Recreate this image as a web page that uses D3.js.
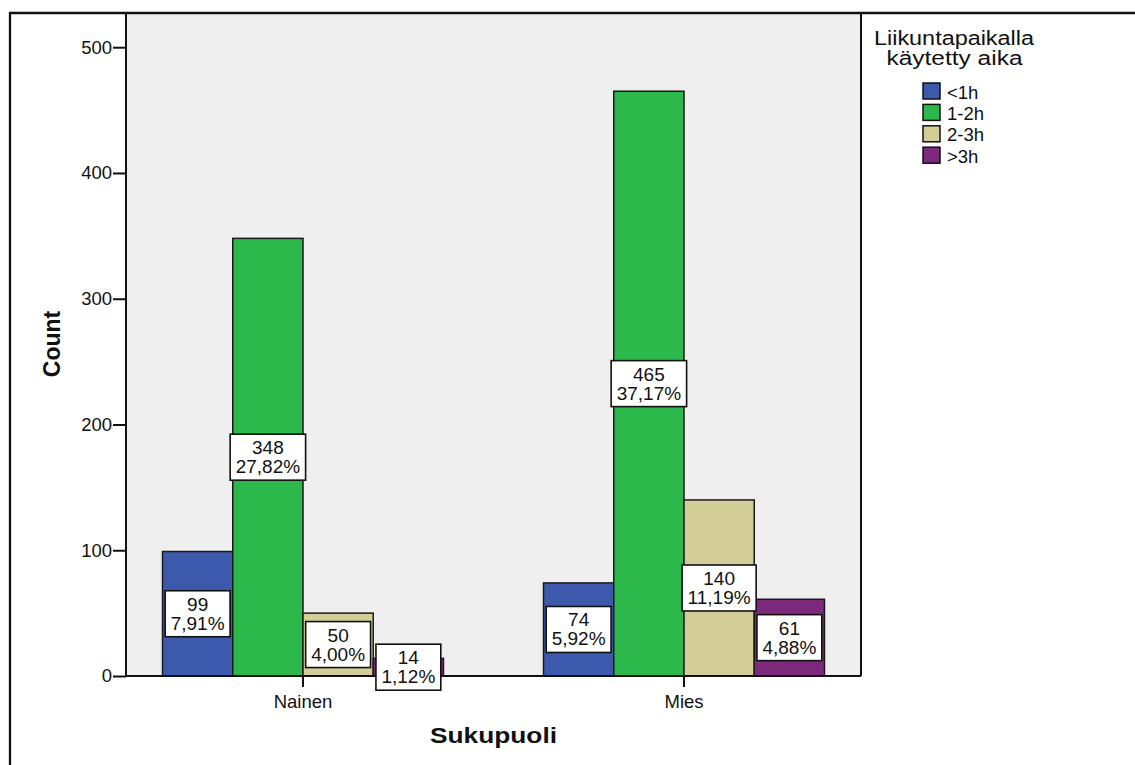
<!DOCTYPE html>
<html>
<head>
<meta charset="utf-8">
<script src="https://cdn.jsdelivr.net/npm/d3@7"></script>
<style>
  html, body { margin: 0; padding: 0; background: #fff; }
  svg { display: block; font-family: Arial, "Liberation Sans", Helvetica, sans-serif; }
</style>
</head>
<body>
<svg id="chart" width="1135" height="765"></svg>
<script>
// Sukupuoli x liikuntapaikalla käytetty aika (counts)
const categories = ["Nainen", "Mies"];
const seriesNames = ["<1h", "1-2h", "2-3h", ">3h"];
const naisetValues = [99, 348, 50, 14];
const miehetValues = [74, 465, 140, 61];
const yTicks = [0, 100, 200, 300, 400, 500];
const seriesColors = ["#3d59ab", "#2db84b", "#d3ce98", "#7d2a7d"];

const valuesByCategory = { "Nainen": naisetValues, "Mies": miehetValues };
const total = d3.sum(naisetValues) + d3.sum(miehetValues);
const pctFormat = v => d3.format(".2f")(v * 100).replace(".", ",") + "%";

const svg = d3.select("#chart");

const plot = { left: 126, right: 861, top: 12, bottom: 676 };

const x = d3.scaleBand()
  .domain(categories)
  .range([plot.left, plot.right])
  .paddingInner(0.2625)
  .paddingOuter(0.0958);

const xInner = d3.scaleBand()
  .domain(seriesNames)
  .range([0, x.bandwidth()]);

const y = d3.scaleLinear()
  .domain([0, 528])
  .range([plot.bottom, plot.top]);

const color = d3.scaleOrdinal().domain(seriesNames).range(seriesColors);

// plot background
svg.append("rect")
  .attr("x", plot.left).attr("y", plot.top)
  .attr("width", plot.right - plot.left).attr("height", plot.bottom - plot.top)
  .attr("fill", "#efefef");

// bars
const rows = [];
categories.forEach(c => {
  valuesByCategory[c].forEach((v, i) => rows.push({ cat: c, series: seriesNames[i], value: v }));
});

svg.append("g").selectAll("rect")
  .data(rows)
  .join("rect")
  .attr("x", d => x(d.cat) + xInner(d.series))
  .attr("y", d => y(d.value))
  .attr("width", xInner.bandwidth())
  .attr("height", d => y(0) - y(d.value))
  .attr("fill", d => color(d.series))
  .attr("stroke", "#1a1a1a")
  .attr("stroke-width", 1.5);

// plot frame lines
svg.append("line").attr("x1", plot.right).attr("x2", plot.right)
  .attr("y1", plot.top).attr("y2", plot.bottom)
  .attr("stroke", "#111").attr("stroke-width", 2);

// y axis
const yAxis = d3.axisLeft(y).tickValues(yTicks).tickSize(13).tickPadding(1).tickSizeOuter(0);
const gy = svg.append("g").attr("transform", `translate(${plot.left},0)`).call(yAxis);
gy.select(".domain").attr("stroke", "#111").attr("stroke-width", 2)
  .attr("d", `M0,${plot.top}V${plot.bottom}`);
gy.selectAll(".tick line").attr("stroke", "#111").attr("stroke-width", 2);
gy.selectAll(".tick text").attr("font-size", 18.5).attr("fill", "#111")
  .attr("font-family", "Arial, 'Liberation Sans', sans-serif");

// x axis
const xAxis = d3.axisBottom(x).tickSize(11).tickPadding(8).tickSizeOuter(0);
const gx = svg.append("g").attr("transform", `translate(0,${plot.bottom})`).call(xAxis);
gx.select(".domain").attr("stroke", "#111").attr("stroke-width", 2)
  .attr("d", `M${plot.left},0H${plot.right}`);
gx.selectAll(".tick line").attr("stroke", "#111").attr("stroke-width", 2);
gx.selectAll(".tick text").attr("font-size", 18.5).attr("fill", "#111")
  .attr("font-family", "Arial, 'Liberation Sans', sans-serif");

// value labels (count + share of total) in white boxes at bar mid-height
const labels = svg.append("g").selectAll("g")
  .data(rows)
  .join("g")
  .attr("transform", d => `translate(${x(d.cat) + xInner(d.series) + xInner.bandwidth() / 2},${y(d.value / 2)})`);

labels.each(function (d) {
  const g = d3.select(this);
  const rect = g.append("rect").attr("fill", "#fff").attr("stroke", "#111").attr("stroke-width", 1.6);
  const t = g.append("text").attr("text-anchor", "middle").attr("font-size", 19).attr("fill", "#111");
  t.append("tspan").attr("x", 0).attr("y", -3).text(d.value);
  t.append("tspan").attr("x", 0).attr("y", 16).text(pctFormat(d.value / total));
  const w = Math.max(...t.selectAll("tspan").nodes().map(n => n.getComputedTextLength()));
  const bw = w + 11;
  rect.attr("x", -bw / 2).attr("y", -23).attr("width", bw).attr("height", 46);
});

// axis titles
svg.append("text")
  .attr("transform", `translate(60,${(plot.top + plot.bottom) / 2}) rotate(-90)`)
  .attr("text-anchor", "middle")
  .attr("font-size", 23).attr("font-weight", "bold").attr("fill", "#111")
  .text("Count");

svg.append("text")
  .attr("x", (plot.left + plot.right) / 2).attr("y", 743)
  .attr("text-anchor", "middle")
  .attr("font-size", 22.5).attr("font-weight", "bold").attr("fill", "#111")
  .attr("textLength", 127).attr("lengthAdjust", "spacingAndGlyphs")
  .text("Sukupuoli");

// legend
const legend = svg.append("g");
legend.append("text").attr("x", 954).attr("y", 45).attr("text-anchor", "middle")
  .attr("font-size", 19.5).attr("fill", "#111")
  .attr("textLength", 160).attr("lengthAdjust", "spacingAndGlyphs")
  .text("Liikuntapaikalla");
legend.append("text").attr("x", 954.5).attr("y", 65).attr("text-anchor", "middle")
  .attr("font-size", 19.5).attr("fill", "#111")
  .attr("textLength", 136).attr("lengthAdjust", "spacingAndGlyphs")
  .text("käytetty aika");

const items = legend.selectAll("g.item")
  .data(seriesNames)
  .join("g").attr("class", "item")
  .attr("transform", (d, i) => `translate(923,${83 + i * 21.4})`);
items.append("rect").attr("width", 17).attr("height", 16)
  .attr("fill", d => color(d)).attr("stroke", "#111").attr("stroke-width", 1.5);
items.append("text").attr("x", 24).attr("y", 15.5)
  .attr("font-size", 18.5).attr("fill", "#111").text(d => d);

// outer frame
svg.append("line").attr("x1", 9).attr("x2", 1135).attr("y1", 13).attr("y2", 13)
  .attr("stroke", "#111").attr("stroke-width", 2.3);
svg.append("line").attr("x1", 10).attr("x2", 10).attr("y1", 12).attr("y2", 765)
  .attr("stroke", "#111").attr("stroke-width", 2.3);
</script>
</body>
</html>
